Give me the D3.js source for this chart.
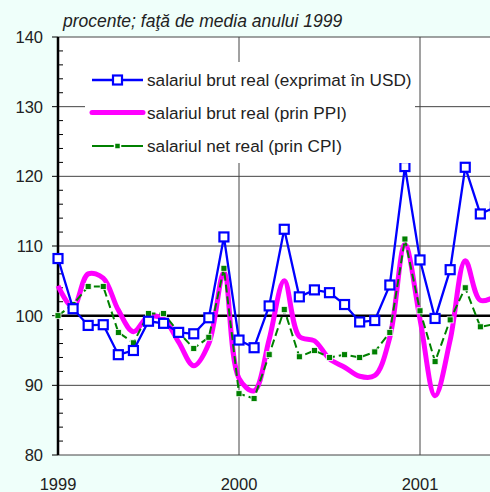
<!DOCTYPE html>
<html lang="ro">
<head>
  <meta charset="UTF-8">
  <title>Salariul real</title>
  <script src="https://d3js.org/d3.v7.min.js"></script>
  <style>
    body { margin: 0; background: #effffa; }
    svg { display: block; font-family: "Liberation Sans", Arial, sans-serif; }
    .lbl { font-size: 16.5px; fill: #222; }
    .leg { font-size: 17.2px; fill: #222; }
    .grid { stroke: #444; stroke-width: 1; }
  </style>
</head>
<body>
<svg id="chart"></svg>
<script>
// luni incepand cu ianuarie 1999 (indice 0)
const years = [1999, 2000, 2001];
const yTicks = [80, 90, 100, 110, 120, 130, 140];
const usd = [108.2, 101.0, 98.6, 98.7, 94.4, 95.0, 99.2, 98.9, 97.6, 97.4, 99.7, 111.3,
             96.5, 95.4, 101.4, 112.4, 102.7, 103.7, 103.3, 101.6, 99.1, 99.3, 104.4, 121.4,
             108.0, 99.6, 106.6, 121.3, 114.6, 115.6];
const ppi = [104.3, 101.2, 106.0, 105.4, 100.8, 97.7, 99.9, 99.5, 96.2, 92.8, 96.0, 106.2,
             91.0, 89.2, 96.6, 105.0, 97.0, 96.4, 93.8, 92.6, 91.3, 91.4, 96.9, 110.2,
             99.5, 88.5, 96.5, 107.9, 102.2, 102.8];
const cpi = [100.0, 101.6, 104.2, 104.2, 97.6, 96.1, 100.3, 100.3, 97.6, 95.3, 96.9, 106.8,
             88.8, 88.1, 94.4, 100.9, 94.1, 95.0, 94.0, 94.4, 94.0, 94.8, 97.6, 111.0,
             100.7, 93.4, 99.4, 104.0, 98.4, 98.8];
const legendNames = ["salariul brut real (exprimat în USD)", "salariul brut real (prin PPI)", "salariul net real (prin CPI)"];

const W = 490, H = 492;
const svg = d3.select("#chart").attr("width", W).attr("height", H);

const x = d3.scaleLinear().domain([0, 36]).range([58, 58 + 543]);
const y = d3.scaleLinear().domain([80, 140]).range([455, 37]);

svg.append("rect").attr("x", x(0)).attr("y", y(140))
  .attr("width", W - x(0)).attr("height", y(80) - y(140)).attr("fill", "#fff");

// grila orizontala
svg.selectAll(".gy").data(yTicks.filter(d => d !== 100)).enter().append("line")
  .attr("class", "grid")
  .attr("x1", x(0)).attr("x2", W).attr("y1", d => y(d)).attr("y2", d => y(d))
  .attr("stroke", d => (d === 80 || d === 140) ? "#000" : "#444");

// grila verticala la inceput de an
svg.selectAll(".gx").data(years.slice(1)).enter().append("line")
  .attr("class", "grid").attr("stroke", "#000")
  .attr("x1", d => x((d - 1999) * 12)).attr("x2", d => x((d - 1999) * 12))
  .attr("y1", y(140)).attr("y2", y(80));

svg.append("line").attr("x1", x(0)).attr("x2", W).attr("y1", y(100)).attr("y2", y(100))
  .attr("stroke", "#000").attr("stroke-width", 2.5);

// axa y
const axis = svg.append("g");
axis.append("line").attr("x1", x(0)).attr("x2", x(0)).attr("y1", y(140)).attr("y2", y(80))
  .attr("stroke", "#000").attr("stroke-width", 2.5);
axis.selectAll(".maj").data(yTicks).enter().append("line")
  .attr("x1", x(0) - 6).attr("x2", x(0)).attr("y1", d => y(d)).attr("y2", d => y(d))
  .attr("stroke", "#000");
axis.selectAll(".min").data(d3.range(82, 140, 2).filter(d => d % 10 !== 0)).enter().append("line")
  .attr("x1", x(0)).attr("x2", x(0) + 5).attr("y1", d => y(d)).attr("y2", d => y(d))
  .attr("stroke", "#000");
axis.selectAll("text").data(yTicks).enter().append("text")
  .attr("class", "lbl").attr("x", 43).attr("y", d => y(d) + 6)
  .attr("text-anchor", "end").text(d => d);

svg.selectAll(".xl").data(years).enter().append("text")
  .attr("class", "lbl").attr("x", d => x((d - 1999) * 12)).attr("y", 490)
  .attr("text-anchor", "middle").text(d => d);

svg.append("text").attr("class", "lbl").attr("x", 63).attr("y", 27)
  .style("font-style", "italic").style("font-size", "17.5px")
  .text("procente; faţă de media anului 1999");

// serii
const line = d3.line().x((d, i) => x(i)).y(d => y(d));
const smooth = d3.line().x((d, i) => x(i)).y(d => y(d)).curve(d3.curveCatmullRom.alpha(0.5));

svg.append("path").datum(ppi).attr("d", smooth)
  .attr("fill", "none").attr("stroke", "#ff00ff").attr("stroke-width", 5);

svg.append("path").datum(cpi).attr("d", line)
  .attr("fill", "none").attr("stroke", "#008000").attr("stroke-width", 2)
  .attr("stroke-dasharray", "8,4");
svg.selectAll(".mc").data(cpi).enter().append("rect")
  .attr("x", (d, i) => x(i) - 3).attr("y", d => y(d) - 3).attr("width", 6).attr("height", 6)
  .attr("fill", "#008000").attr("stroke", "#fff").attr("stroke-width", 0.8);

svg.append("path").datum(usd).attr("d", line)
  .attr("fill", "none").attr("stroke", "#0000ff").attr("stroke-width", 2.3);
svg.selectAll(".mu").data(usd).enter().append("rect")
  .attr("x", (d, i) => x(i) - 4.5).attr("y", d => y(d) - 4.5).attr("width", 9).attr("height", 9)
  .attr("fill", "#fff").attr("stroke", "#0000ff").attr("stroke-width", 2.2);

// legenda
const lg = svg.append("g");
lg.append("rect").attr("x", 85).attr("y", 62).attr("width", 330).attr("height", 101).attr("fill", "#fff");
const rows = [80, 112.5, 146];
lg.selectAll("text").data(legendNames).enter().append("text")
  .attr("class", "leg").attr("x", 147).attr("y", (d, i) => rows[i] + 6).text(d => d);
lg.append("line").attr("x1", 92).attr("x2", 143).attr("y1", rows[0]).attr("y2", rows[0])
  .attr("stroke", "#0000ff").attr("stroke-width", 2.3);
lg.append("rect").attr("x", 113).attr("y", rows[0] - 4.5).attr("width", 9).attr("height", 9)
  .attr("fill", "#fff").attr("stroke", "#0000ff").attr("stroke-width", 2.2);
lg.append("line").attr("x1", 92).attr("x2", 143).attr("y1", rows[1]).attr("y2", rows[1])
  .attr("stroke", "#ff00ff").attr("stroke-width", 5).attr("stroke-linecap", "round");
lg.append("line").attr("x1", 92).attr("x2", 143).attr("y1", rows[2]).attr("y2", rows[2])
  .attr("stroke", "#008000").attr("stroke-width", 2);
lg.append("rect").attr("x", 114.5).attr("y", rows[2] - 3).attr("width", 6).attr("height", 6)
  .attr("fill", "#008000").attr("stroke", "#fff").attr("stroke-width", 1.5);
</script>
</body>
</html>
